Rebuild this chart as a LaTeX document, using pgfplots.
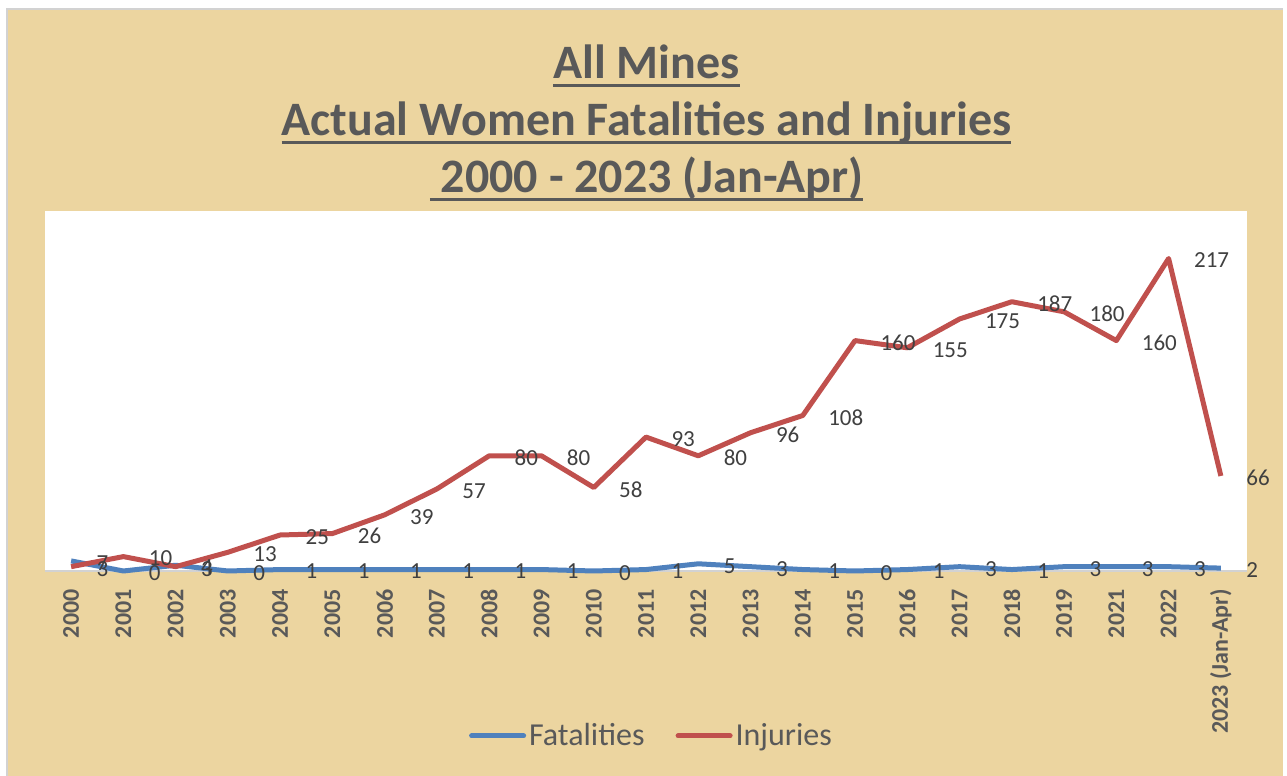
\documentclass[border=0pt]{standalone}
\usepackage{pgfplots}
\pgfplotsset{compat=1.18}
\usepackage{fontspec}
\setmainfont{Carlito}
\definecolor{tan}{RGB}{236,213,160}
\definecolor{fatblue}{RGB}{79,129,189}
\definecolor{injred}{RGB}{192,80,77}
\definecolor{titlegray}{RGB}{89,89,89}
\definecolor{labgray}{RGB}{64,64,64}
\definecolor{basegray}{RGB}{210,210,210}
\newcommand\ul[1]{\setbox0\hbox{#1}\leavevmode\rlap{\rule[-4pt]{\wd0}{1.5pt}}\box0}
\begin{document}
\begin{tikzpicture}
\fill[white] (0,0) rectangle (643.5pt,388pt);
\fill[tan] (3.5pt,0) rectangle (641.5pt,383.5pt);
\draw[basegray,line width=0.6pt] (3.5pt,0) -- (3.5pt,383.5pt) -- (641.5pt,383.5pt);
\node[text=titlegray,font=\fontsize{24}{28.5}\selectfont\bfseries,align=center,anchor=center]
  at (323.25pt,326.5pt) {\ul{All Mines}\\\ul{Actual Women Fatalities and Injuries}\\\ul{\ 2000 - 2023 (Jan-Apr)}};
\begin{axis}[
  at={(22.5pt,102.5pt)}, anchor=south west,
  scale only axis, width=601pt, height=180pt,
  xmin=-0.5, xmax=22.5, ymin=0, ymax=250,
  clip=false,
  axis background/.style={fill=white},
  axis x line*=bottom, axis y line=none,
  x axis line style={draw=basegray,line width=1pt},
  xtick={0,...,22},
  xticklabels={2000,2001,2002,2003,2004,2005,2006,2007,2008,2009,2010,2011,2012,2013,2014,2015,2016,2017,2018,2019,2021,2022,2023 (Jan-Apr)},
  major tick length=0pt,
  xticklabel style={rotate=90,anchor=east,inner sep=0pt,text=titlegray,font=\fontsize{12}{14}\selectfont\bfseries},
  xticklabel shift=9pt,
  /pgf/number format/assume math mode=true,
  nodes near coords={\pgfmathprintnumber{\pgfplotspointmeta}},
  every node near coord/.append style={anchor=west,inner sep=0pt,xshift=11.5pt,yshift=-1pt,text=labgray,font=\fontsize{11.5}{13}\selectfont},
  legend style={at={(0.505,-0.458)},anchor=center,draw=none,fill=none,legend columns=2,
    font=\fontsize{16}{18}\selectfont,text=titlegray,
    /tikz/every even column/.append style={column sep=14pt},
    nodes={inner sep=1.5pt}},
  legend image code/.code={\draw[line width=2.5pt,line cap=round] (0pt,0pt) -- (26pt,0pt);},
]
\addplot[fatblue,line width=2.5pt,line join=round,mark=none] coordinates {
(0,7)(1,0)(2,4)(3,0)(4,1)(5,1)(6,1)(7,1)(8,1)(9,1)(10,0)(11,1)(12,5)(13,3)(14,1)(15,0)(16,1)(17,3)(18,1)(19,3)(20,3)(21,3)(22,2)};
\addlegendentry{Fatalities}
\addplot[injred,line width=2.5pt,line join=round,mark=none] coordinates {
(0,3)(1,10)(2,3)(3,13)(4,25)(5,26)(6,39)(7,57)(8,80)(9,80)(10,58)(11,93)(12,80)(13,96)(14,108)(15,160)(16,155)(17,175)(18,187)(19,180)(20,160)(21,217)(22,66)};
\addlegendentry{Injuries}
\end{axis}
\pgfresetboundingbox
\useasboundingbox (0,0) rectangle (643.5pt,388pt);
\end{tikzpicture}
\end{document}
